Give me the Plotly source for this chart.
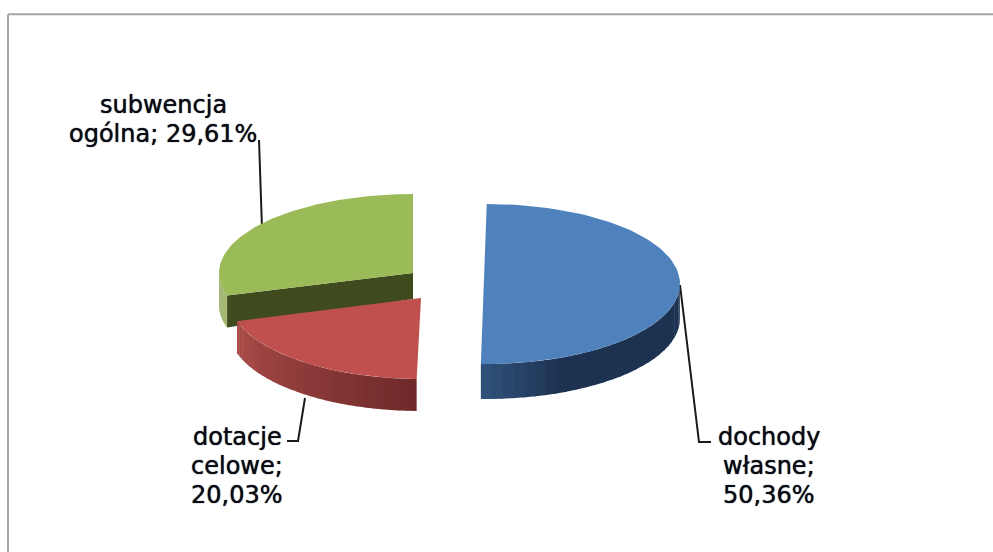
import math
import plotly.graph_objects as go

# ---- data ----
categories = ["dochody własne", "dotacje celowe", "subwencja ogólna"]
values = [50.36, 20.03, 29.61]
label_lines = [["dochody", "własne;", "{}"], ["dotacje", "celowe;", "{}"], ["subwencja", "ogólna; {}"]]

# ---- style / layout ----
W, H = 993, 552
top_colors = ["#4f81bd", "#c0504d", "#9bbb59"]
wall_light = [(47, 80, 120), (170, 76, 73), (143, 170, 82)]
wall_dark = [(28, 50, 80), (112, 42, 42), (130, 155, 72)]
# apex x, apex y, radius x, radius y, shear, depth per slice
geom = [
    (486, 284, 194, 80, -0.0094, 35),
    (421, 298, 192, 81, 0.0, 32),
    (413, 273, 194, 79, 0.0, 32),
]
inner_wall_color = "#3f4a1e"
label_pos = [(769, 466), (237, 466), (163, 119.5)]
line_pitch = 29
leaders = [
    ([680, 699, 711], [285, 442, 442]),
    ([305, 298, 287], [398, 441, 441]),
    ([259, 262], [140, 228]),
]
frame_x = [8, 8, None, 8, W]
frame_y = [H, 14.3, None, 14.3, 14.3]


def pt(g, theta):
    cx, cy, rx, ry, k, _ = g
    y = cy - ry * math.cos(theta)
    return cx + rx * math.sin(theta) + k * (y - cy), y


def poly(fig, xs, ys, color):
    fig.add_trace(go.Scatter(x=xs, y=ys, mode="lines", fill="toself", fillcolor=color,
                             line=dict(width=0, color=color), hoverinfo="skip", showlegend=False))


def mix(a, b, t):
    return "rgb({},{},{})".format(*[round(a[i] + (b[i] - a[i]) * t) for i in range(3)])


fig = go.Figure()

# frame and leader lines
fig.add_trace(go.Scatter(x=frame_x, y=frame_y, mode="lines", line=dict(color="#a6a6a6", width=2),
                         hoverinfo="skip", showlegend=False))
for lx, ly in leaders:
    fig.add_trace(go.Scatter(x=lx, y=ly, mode="lines", line=dict(color="#1a1a1a", width=2),
                             hoverinfo="skip", showlegend=False))

# slice angles from the values, clockwise from the top
total = sum(values)
angles = []
acc = 0.0
for v in values:
    angles.append((acc / total * 2 * math.pi, (acc + v) / total * 2 * math.pi))
    acc += v

STEPS = 28
for i in [2, 1, 0]:
    g = geom[i]
    a0, a1 = angles[i]
    depth = g[5]
    cx, cy = g[0], g[1]
    # inner cut face of the green slice
    if i == 2:
        px, py = pt(g, a0)
        poly(fig, [cx, px, px, cx, cx], [cy, py, py + depth, cy + depth - 6, cy], inner_wall_color)
    # outer wall: strips on the lower half of the rim
    lo = max(a0, math.pi / 2)
    hi = min(a1, 3 * math.pi / 2)
    for s in range(STEPS):
        t0 = lo + (hi - lo) * s / STEPS
        t1 = min(lo + (hi - lo) * (s + 1.15) / STEPS, hi)
        x0, y0 = pt(g, t0)
        x1, y1 = pt(g, t1)
        f = s / (STEPS - 1)
        if i == 0:
            c = mix(wall_dark[i], wall_light[i], max(0.0, (f - 0.74) / 0.26))
        elif i == 1:
            c = mix(wall_dark[i], wall_light[i], f)
        else:
            c = mix(wall_light[i], wall_dark[i], f)
        poly(fig, [x0, x1, x1, x0, x0], [y0, y1, y1 + depth, y0 + depth, y0], c)
    # top face (the blue slice's edge runs straight, so no apex point there)
    n = 90
    xs, ys = ([], []) if i == 0 else ([cx], [cy])
    for s in range(n + 1):
        px, py = pt(g, a0 + (a1 - a0) * s / n)
        xs.append(px)
        ys.append(py)
    xs.append(xs[0])
    ys.append(ys[0])
    poly(fig, xs, ys, top_colors[i])

# labels built from the values
for i in range(3):
    pct = f"{values[i]:.2f}".replace(".", ",") + "%"
    lines = label_lines[i]
    for j, line in enumerate(lines):
        fig.add_annotation(x=label_pos[i][0], y=label_pos[i][1] + (j - (len(lines) - 1) / 2) * line_pitch,
                           text=line.format(pct), showarrow=False,
                           xanchor="center", yanchor="middle", align="center",
                           font=dict(family="DejaVu Sans", size=24, color="#0a0a14",
                                     shadow="0 0 1px #0a0a14"))

fig.update_layout(
    width=W, height=H, margin=dict(l=0, r=0, t=0, b=0),
    paper_bgcolor="white", plot_bgcolor="white", showlegend=False,
    xaxis=dict(range=[0, W], visible=False, fixedrange=True),
    yaxis=dict(range=[H, 0], visible=False, fixedrange=True),
)
fig.write_html("out.html", config={"displayModeBar": False},
               post_script="document.body.style.margin='0';document.body.style.overflow='hidden';")
